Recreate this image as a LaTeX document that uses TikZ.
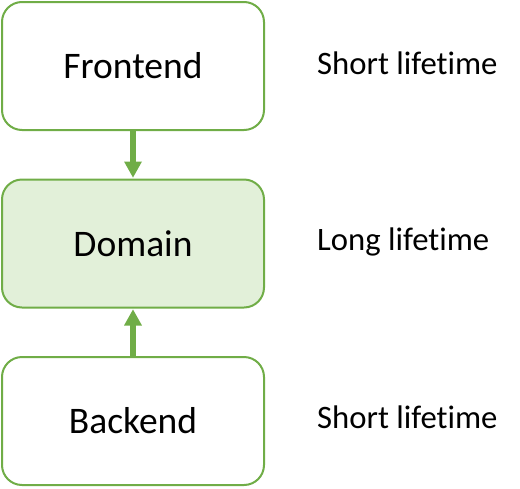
\documentclass[tikz,border=0pt]{standalone}
\usepackage{fontspec}
\setmainfont{Carlito}[Ligatures=NoCommon]
\definecolor{gstroke}{HTML}{70AD47}
\definecolor{gfill}{HTML}{E2F0D9}
\begin{document}
\begin{tikzpicture}[x=1pt,y=-1pt,
  box/.style={draw=gstroke, line width=2pt, rounded corners=20pt, minimum width=262pt, minimum height=128pt, inner sep=0pt, font=\fontsize{37.5}{44}\selectfont, text=black},
  lbl/.style={anchor=base west, inner sep=0pt, font=\fontsize{32.7}{38}\selectfont, text=black},
  shaft/.style={draw=gstroke, line width=6pt},
  head/.style={fill=gstroke}]
\useasboundingbox (0,0) rectangle (520,488);
\node[box, fill=white] (fe) at (133,66) {Frontend};
\node[box, fill=gfill] (dom) at (133,243.5) {Domain};
\node[box, fill=white] (be) at (133,421) {Backend};
\node[lbl] (l1) at (317,74) {Short lifetime};
\node[lbl] (l2) at (317,250) {Long lifetime};
\node[lbl] (l3) at (317,428.5) {Short lifetime};
\draw[shaft] (fe.south) -- ([yshift=14pt]dom.north);
\fill[head] ([yshift=1pt]dom.north) -- ++(-9,-16) -- ++(18,0) -- cycle;
\draw[shaft] (be.north) -- ([yshift=-14pt]dom.south);
\fill[head] ([yshift=-1pt]dom.south) -- ++(-9,16) -- ++(18,0) -- cycle;
\end{tikzpicture}
\end{document}
